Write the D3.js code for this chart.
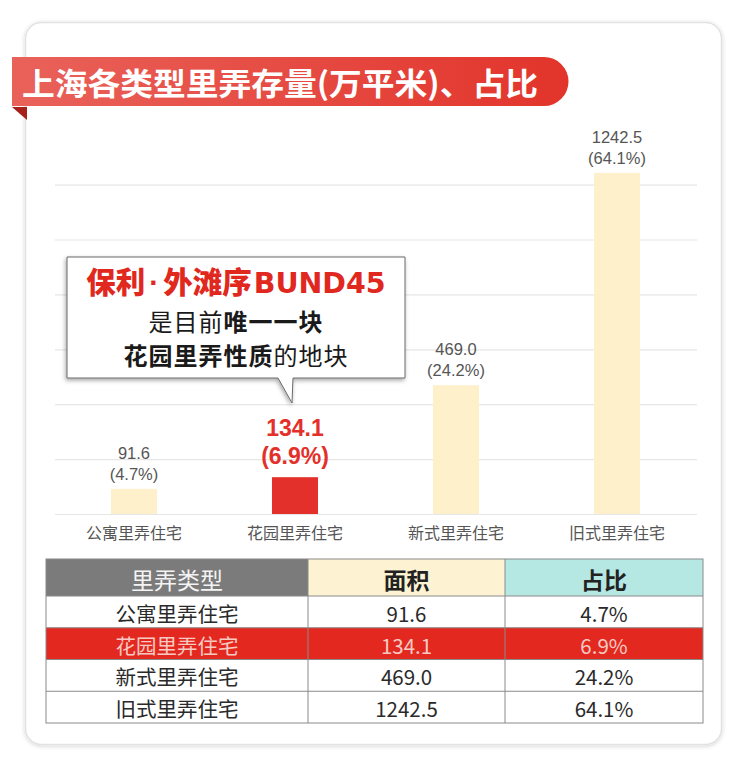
<!DOCTYPE html>
<html>
<head>
<meta charset="utf-8">
<script src="https://cdn.jsdelivr.net/npm/d3@7"></script>
<style>
  html, body { margin: 0; padding: 0; background: #ffffff; }
  svg { display: block; }
</style>
</head>
<body>
<div id="chart"></div>
<script>
// ---------- DATA ----------
const categories = ["公寓里弄住宅", "花园里弄住宅", "新式里弄住宅", "旧式里弄住宅"];
const areas = [91.6, 134.1, 469.0, 1242.5];
const shares = [4.7, 6.9, 24.2, 64.1];
const yTicks = [0, 200, 400, 600, 800, 1000, 1200];
const highlightIndex = 1;
const tableHeaders = ["里弄类型", "面积", "占比"];
const titleText = "上海各类型里弄存量(万平米)、占比";

// ---------- SETUP ----------
const W = 740, H = 774;
const CJK = "'Noto Sans CJK SC', 'Noto Sans', sans-serif";
const LAT = "'Liberation Sans', Arial, 'Noto Sans CJK SC', sans-serif";
const WIDE = "'DejaVu Sans', 'Noto Sans CJK SC', sans-serif";
const RED = "#e3302a";
const CREAM = "#fdf0cb";

const svg = d3.select("#chart").append("svg").attr("width", W).attr("height", H);
const defs = svg.append("defs");

const shadow = defs.append("filter").attr("id", "cardShadow").attr("x", "-10%").attr("y", "-10%").attr("width", "120%").attr("height", "120%");
shadow.append("feDropShadow").attr("dx", 0).attr("dy", 1).attr("stdDeviation", 2).attr("flood-color", "#000").attr("flood-opacity", 0.18);

const boxShadow = defs.append("filter").attr("id", "boxShadow").attr("x", "-10%").attr("y", "-10%").attr("width", "120%").attr("height", "130%");
boxShadow.append("feDropShadow").attr("dx", -1).attr("dy", 2).attr("stdDeviation", 2).attr("flood-color", "#000").attr("flood-opacity", 0.35);

const grad = defs.append("linearGradient").attr("id", "ribbonGrad").attr("x1", "0%").attr("x2", "100%");
grad.append("stop").attr("offset", "0%").attr("stop-color", "#e9625a");
grad.append("stop").attr("offset", "100%").attr("stop-color", "#e2342b");

// card
svg.append("rect")
  .attr("x", 25.5).attr("y", 22.5).attr("width", 696).attr("height", 722)
  .attr("rx", 16).attr("fill", "#fff").attr("stroke", "#e2e2e2").attr("stroke-width", 1.5)
  .attr("filter", "url(#cardShadow)");

// title ribbon
svg.append("path").attr("d", "M12,107 L27,107 L27,120 Z").attr("fill", "#a8201a");
svg.append("path").attr("d", "M12,57 H544 A24.5,24.5 0 0 1 544,106 H12 Z").attr("fill", "url(#ribbonGrad)");
svg.append("text")
  .attr("x", 22).attr("y", 95)
  .attr("font-family", CJK).attr("font-weight", 700).attr("font-size", 31)
  .attr("fill", "#fff")
  .attr("textLength", 516).attr("lengthAdjust", "spacingAndGlyphs")
  .text(titleText);

// ---------- CHART ----------
const x = d3.scaleBand().domain(categories).range([53.5, 697.5]).paddingInner(0.714).paddingOuter(0.357);
const y = d3.scaleLinear().domain([0, 1200]).range([514, 184.6]);

const grid = svg.append("g").attr("transform", "translate(55,0)")
  .call(d3.axisLeft(y).tickValues(yTicks).tickSize(-642).tickFormat(""));
grid.select(".domain").remove();
grid.selectAll(".tick line").attr("stroke", "#e6e6e6").attr("stroke-width", 1.2);

const data = categories.map((c, i) => ({ c, v: areas[i], s: shares[i], hi: i === highlightIndex }));

svg.append("g").selectAll("rect").data(data).join("rect")
  .attr("x", d => x(d.c))
  .attr("width", x.bandwidth())
  .attr("y", d => y(d.v))
  .attr("height", d => y(0) - y(d.v))
  .attr("fill", d => d.hi ? RED : CREAM);

// value labels
const lbl = svg.append("g");
data.forEach(d => {
  const cx = x(d.c) + x.bandwidth() / 2;
  const top = y(d.v);
  if (d.hi) {
    lbl.append("text").attr("x", cx).attr("y", top - 41)
      .attr("text-anchor", "middle").attr("font-family", LAT).attr("font-weight", 700)
      .attr("font-size", 23).attr("fill", RED).text(d.v.toFixed(1));
    lbl.append("text").attr("x", cx).attr("y", top - 13)
      .attr("text-anchor", "middle").attr("font-family", LAT).attr("font-weight", 700)
      .attr("font-size", 23).attr("fill", RED).text("(" + d.s.toFixed(1) + "%)");
  } else {
    lbl.append("text").attr("x", cx).attr("y", top - 30)
      .attr("text-anchor", "middle").attr("font-family", LAT)
      .attr("font-size", 16.5).attr("fill", "#555").text(d.v.toFixed(1));
    lbl.append("text").attr("x", cx).attr("y", top - 9)
      .attr("text-anchor", "middle").attr("font-family", LAT)
      .attr("font-size", 16.5).attr("fill", "#555").text("(" + d.s.toFixed(1) + "%)");
  }
});

// category axis
const xAxis = svg.append("g").attr("transform", "translate(0,514)")
  .call(d3.axisBottom(x).tickSize(0).tickPadding(14));
xAxis.select(".domain").remove();
xAxis.selectAll("text").attr("font-family", CJK).attr("font-size", 16).attr("fill", "#555");

// ---------- CALLOUT ----------
const cx0 = x(categories[highlightIndex]) + x.bandwidth() / 2;
svg.append("path")
  .attr("d", `M67,257 H405 V378 H${cx0 - 2} L${cx0 - 3},403 L${cx0 - 17},378 H67 Z`)
  .attr("fill", "#fff").attr("stroke", "#6a6a6a").attr("stroke-width", 1)
  .attr("filter", "url(#boxShadow)");

const cxText = 236;
const l1 = svg.append("text").attr("x", cxText).attr("y", 293)
  .attr("text-anchor", "middle").attr("font-weight", 900)
  .attr("font-size", 29.5).attr("fill", "#e0281e");
l1.append("tspan").attr("font-family", CJK).text("保利");
l1.append("tspan").attr("font-family", LAT).attr("font-weight", 700).attr("dx", 4).text("·");
l1.append("tspan").attr("font-family", CJK).attr("dx", 4).text("外滩序");
l1.append("tspan").attr("font-family", WIDE).attr("font-weight", 700).attr("font-size", 28.5).attr("dx", 2).text("BUND45");

const l2 = svg.append("text").attr("x", cxText).attr("y", 331)
  .attr("text-anchor", "middle").attr("font-family", CJK).attr("font-size", 24)
  .attr("letter-spacing", 1).attr("fill", "#1a1a1a");
l2.append("tspan").attr("font-weight", 400).text("是目前");
l2.append("tspan").attr("font-weight", 700).text("唯一一块");

const l3 = svg.append("text").attr("x", cxText).attr("y", 365)
  .attr("text-anchor", "middle").attr("font-family", CJK).attr("font-size", 24)
  .attr("letter-spacing", 1).attr("fill", "#1a1a1a");
l3.append("tspan").attr("font-weight", 700).text("花园里弄性质");
l3.append("tspan").attr("font-weight", 400).text("的地块");

// ---------- TABLE ----------
const colX = [46, 308, 505, 703];
const headTop = 559, headBot = 596;
const rowY = d3.scaleBand().domain(d3.range(categories.length)).range([headBot, 723]);
const headFill = ["#7b7b7b", "#fdf3d3", "#b5e8e3"];
const headColor = ["#f4f4f4", "#222", "#222"];

const tbl = svg.append("g");
tableHeaders.forEach((h, j) => {
  tbl.append("rect").attr("x", colX[j]).attr("y", headTop).attr("width", colX[j + 1] - colX[j]).attr("height", headBot - headTop)
    .attr("fill", headFill[j]);
  tbl.append("text").attr("x", (colX[j] + colX[j + 1]) / 2).attr("y", (headTop + headBot) / 2 + 1)
    .attr("text-anchor", "middle").attr("dominant-baseline", "central")
    .attr("font-family", CJK).attr("font-weight", j === 0 ? 400 : 700).attr("font-size", 23)
    .attr("fill", headColor[j]).text(h);
});

data.forEach((d, i) => {
  const ry = rowY(i), rh = rowY.bandwidth();
  if (d.hi) {
    tbl.append("rect").attr("x", colX[0]).attr("y", ry).attr("width", colX[3] - colX[0]).attr("height", rh).attr("fill", "#e3291f");
  }
  const cells = [d.c, d.v.toFixed(1), d.s.toFixed(1) + "%"];
  cells.forEach((t, j) => {
    tbl.append("text").attr("x", (colX[j] + colX[j + 1]) / 2).attr("y", ry + rh / 2 + 1)
      .attr("text-anchor", "middle").attr("dominant-baseline", "central")
      .attr("font-family", CJK).attr("font-size", 20.5)
      .attr("fill", d.hi ? "#f7c9c3" : "#2a2a2a").text(t);
  });
});

// table lines
const lineColor = "#8a8a8a";
[headBot, ...d3.range(1, categories.length).map(i => rowY(i))].forEach(yy => {
  tbl.append("line").attr("x1", colX[0]).attr("x2", colX[3]).attr("y1", yy).attr("y2", yy)
    .attr("stroke", lineColor).attr("stroke-width", 1);
});
[colX[1], colX[2]].forEach(xx => {
  tbl.append("line").attr("x1", xx).attr("x2", xx).attr("y1", headTop).attr("y2", 723)
    .attr("stroke", lineColor).attr("stroke-width", 1);
});
tbl.append("rect").attr("x", colX[0]).attr("y", headTop).attr("width", colX[3] - colX[0]).attr("height", 723 - headTop)
  .attr("fill", "none").attr("stroke", lineColor).attr("stroke-width", 1);
</script>
</body>
</html>
